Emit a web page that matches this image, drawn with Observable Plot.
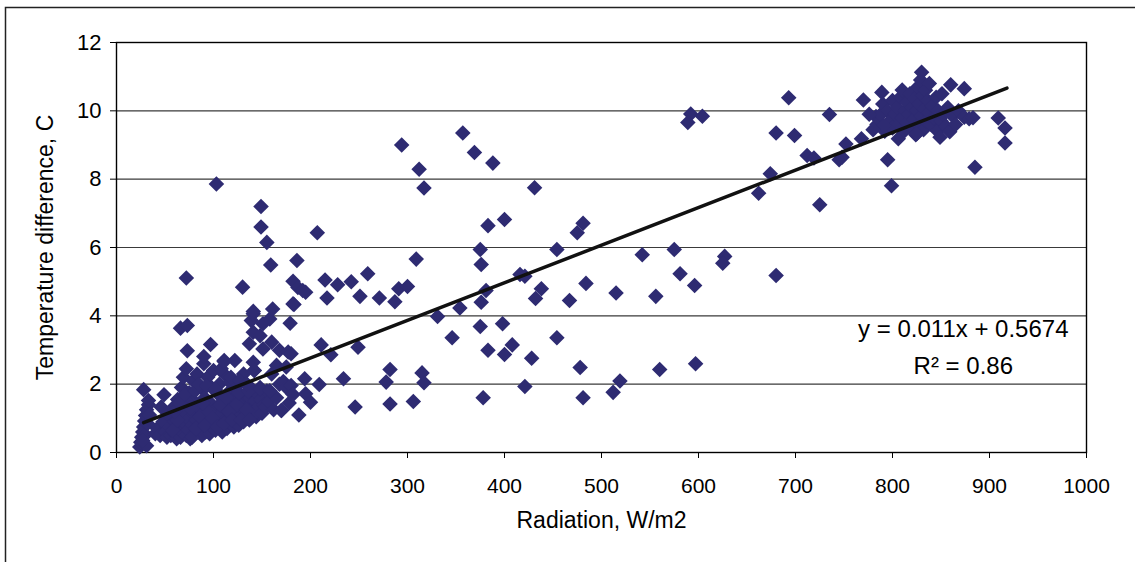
<!DOCTYPE html>
<html><head><meta charset="utf-8">
<script src="https://cdn.jsdelivr.net/npm/d3@7"></script>
<script src="https://cdn.jsdelivr.net/npm/@observablehq/plot@0.6"></script>
<style>
body{margin:0;background:#fff;}
#chart{position:relative;width:1135px;height:562px;overflow:hidden;background:#fff;}
</style></head><body><div id="chart"></div>
<script>
const xTicks = [0,100,200,300,400,500,600,700,800,900,1000];
const yTicks = [0,2,4,6,8,10,12];
const xTitle = "Radiation, W/m2";
const yTitle = "Temperature difference, C";
const equationLines = ["y = 0.011x + 0.5674", "R\u00B2 = 0.86"];
const trendSlope = 0.011, trendIntercept = 0.5674, trendStart = 28, trendEnd = 918;

// [radiation, temperature difference]
const nearZeroColumn = [[24,0.16],[25,0.3],[26,0.45],[27,0.6],[28,0.75],[29,0.92],[30,1.08],[31,1.25],[33,1.4],[33,1.52],[28,1.84],[31,0.2],[29,0.5],[32,0.85],[34,1.1],[27,0.35]];
const lowBand = [[40,0.55],[42,0.7],[45,0.5],[46,1.33],[49,1.69],[48,0.9],[50,0.6],[52,0.45],[53,1.1],[55,0.75],[56,0.5],[58,1.3],[60,0.55],[60,0.9],[62,0.4],[63,1.55],[64,0.7],[65,1.1],[66,0.45],[67,1.9],[68,0.6],[69,2.2],[70,0.85],[70,1.4],[72,0.5],[72,2.45],[73,1.0],[74,0.65],[75,1.75],[76,0.4],[77,1.2],[78,0.8],[79,2.1],[80,0.55],[80,1.5],[82,0.95],[83,2.3],[84,0.6],[85,1.3],[86,0.75],[87,1.9],[88,0.5],[88,1.1],[90,2.6],[90,0.85],[91,1.6],[92,0.6],[93,1.25],[94,2.2],[95,0.9],[96,0.55],[97,1.45],[98,1.9],[99,0.75],[100,1.1],[100,2.4],[102,0.65],[103,1.3],[104,0.9],[105,1.7],[106,2.0],[107,0.8],[108,1.15],[109,0.6],[110,1.5],[111,2.3],[112,0.95],[113,1.25],[114,0.7],[115,1.75],[116,1.0],[117,2.05],[118,0.85],[119,1.4],[120,1.1],[121,0.75],[122,1.6],[123,1.9],[124,1.0],[125,1.3],[126,0.8],[127,2.1],[128,1.15],[130,1.45],[131,0.9],[132,1.7],[133,1.2],[134,2.0],[135,1.0],[136,1.35],[138,1.6],[139,1.1],[140,1.85],[141,1.3],[142,2.4],[143,1.5],[144,1.05],[145,1.2],[146,1.7],[147,1.35],[148,1.9],[149,1.55],[150,1.15],[152,1.4],[153,1.33],[155,1.8],[157,1.5],[160,2.3],[162,1.25],[165,1.6],[168,2.0],[170,1.23],[172,2.08],[175,1.9],[178,1.45],[180,1.96],[182,1.7],[188,1.1],
[58,0.65],[63,0.95],[68,1.25],[74,1.45],[78,0.45],[82,0.7],[86,1.05],[91,0.8],[95,1.2],[99,1.0],[104,0.75],[107,1.4],[111,0.85],[116,1.2],[119,0.95],[124,1.4],[129,0.95],[134,1.25],[137,0.95],[60,1.2],[65,1.45],[70,1.7],[76,1.3],[81,1.8],[85,2.0],[89,1.45],[93,1.95],[102,1.85],[108,2.45],[113,1.6],[118,2.2],[126,1.75],[131,2.3],[136,1.8]];
const lowerMid = [[137,3.18],[141,3.52],[148,3.42],[139,3.86],[151,3.77],[158,3.91],[179,3.78],[141,4.06],[161,4.2],[183,4.33],[141,4.13],[160,3.23],[151,3.03],[168,2.99],[177,2.94],[180,2.89],[111,2.69],[122,2.69],[141,2.64],[142,2.4],[165,2.55],[175,2.5],[127,2.1],[134,2.01],[148,1.86],[158,1.81],[130,4.84],[72,5.11],[66,3.64],[73,3.72],[73,2.98],[90,2.81],[97,3.16],[111,2.66],[182,5.01],[187,4.83],[195,4.69],[182,4.35],[186,5.62],[159,5.49],[155,6.15],[149,6.6],[149,7.2],[103,7.86],[207,6.43]];
const midScatter = [[294,9.0],[357,9.35],[369,8.78],[388,8.47],[312,8.29],[317,7.74],[400,6.82],[383,6.64],[375,5.94],[376,5.5],[309,5.66],[215,5.05],[228,4.91],[242,5.0],[259,5.23],[251,4.57],[217,4.52],[271,4.52],[287,4.41],[291,4.79],[300,4.86],[192,4.74],[381,4.74],[376,4.4],[354,4.23],[331,3.98],[375,3.69],[398,3.77],[346,3.36],[383,2.99],[400,2.87],[408,3.15],[211,3.15],[221,2.86],[249,3.08],[282,2.43],[278,2.06],[315,2.33],[317,2.04],[234,2.16],[194,2.16],[209,1.99],[195,1.72],[200,1.47],[282,1.42],[306,1.49],[378,1.6],[246,1.33],[416,5.21],[170,1.23],
[431,7.75],[481,6.71],[475,6.43],[454,5.94],[662,7.59],[421,5.16],[438,4.79],[432,4.51],[467,4.45],[484,4.95],[515,4.67],[542,5.79],[556,4.57],[575,5.94],[581,5.23],[596,4.89],[627,5.74],[625,5.54],[428,2.76],[454,3.36],[421,1.93],[478,2.49],[481,1.6],[512,1.76],[519,2.09],[560,2.43],[597,2.6],[680,5.18]];
const upperScatter = [[592,9.91],[589,9.66],[604,9.84],[693,10.38],[735,9.89],[680,9.35],[699,9.28],[712,8.69],[719,8.62],[745,8.57],[748,8.64],[752,9.03],[768,9.18],[674,8.16],[725,7.25],[799,7.81],[795,8.57],[770,10.32],[783,9.83],[885,8.35],[909,9.79],[916,9.5],[916,9.06]];
const highCluster = [[784,9.6],[788,9.9],[790,10.2],[792,9.4],[795,10.0],[797,9.7],[800,10.3],[800,9.5],[803,9.9],[805,10.1],[806,9.18],[807,9.6],[808,10.4],[810,10.61],[810,9.8],[812,9.4],[813,10.0],[815,9.65],[815,10.25],[817,9.9],[818,10.5],[820,9.5],[820,10.1],[822,9.75],[823,10.35],[824,9.3],[825,10.0],[826,10.7],[827,9.6],[828,10.2],[829,10.9],[830,11.13],[830,9.85],[831,10.45],[832,9.45],[833,10.05],[834,10.6],[835,9.7],[836,10.3],[837,9.95],[838,10.8],[840,9.6],[841,10.15],[843,9.8],[845,10.4],[846,9.42],[847,10.0],[849,9.23],[850,9.7],[851,10.5],[853,9.9],[855,9.55],[857,10.1],[859,9.39],[860,10.76],[862,9.85],[865,9.6],[868,10.0],[874,10.65],[874,9.81],[879,9.77],[776,9.9],[789,10.54],[791,9.57],[780,9.45],[825,9.33],[883,9.8]];

const points = [...nearZeroColumn, ...lowBand, ...lowerMid, ...midScatter, ...upperScatter, ...highCluster];
const trend = [trendStart, trendEnd].map(x => [x, trendSlope * x + trendIntercept]);
const eqData = [{x: 873, y: 3.6, t: equationLines[0]}, {x: 873, y: 2.52, t: equationLines[1]}];

const font = "'Liberation Sans', Arial, sans-serif";
const chart = Plot.plot({
  width: 1135, height: 562,
  marginLeft: 116, marginRight: 49, marginTop: 42, marginBottom: 110,
  style: {fontFamily: font, fontSize: "21px", color: "#000", background: "#fff", overflow: "visible"},
  x: {domain: [0, 1000]},
  y: {domain: [0, 12]},
  marks: [
    Plot.gridY(yTicks, {stroke: "#3a3a3a", strokeOpacity: 1, strokeWidth: 1.2}),
    Plot.frame({stroke: "#000", strokeWidth: 1.4}),
    Plot.axisX({ticks: xTicks, tickSize: 6, tickPadding: 20, tickFormat: d => String(d), label: null, fontSize: 21}),
    Plot.axisY({ticks: yTicks, tickSize: 6, tickPadding: 9, tickFormat: d => String(d), label: null, fontSize: 22}),
    Plot.dot(points, {x: d => d[0], y: d => d[1], symbol: "diamond2", fill: "#2e2b72", stroke: "none", r: 7}),
    Plot.line(trend, {x: d => d[0], y: d => d[1], stroke: "#111", strokeWidth: 3.5}),
    Plot.text(eqData, {x: "x", y: "y", text: "t", fontSize: 24, textAnchor: "middle", fill: "#000"}),
    Plot.text([xTitle], {frameAnchor: "bottom", dy: 75, fontSize: 23, textAnchor: "middle", fill: "#000"}),
    Plot.text([yTitle], {frameAnchor: "left", dx: -71, rotate: -90, fontSize: 23, textAnchor: "middle", fill: "#000"})
  ]
});
d3.select(chart).append("path").attr("d", "M5.5,562V7.5H1135").attr("fill", "none").attr("stroke", "#222").attr("stroke-width", 1.5);
document.getElementById("chart").appendChild(chart);
</script></body></html>
